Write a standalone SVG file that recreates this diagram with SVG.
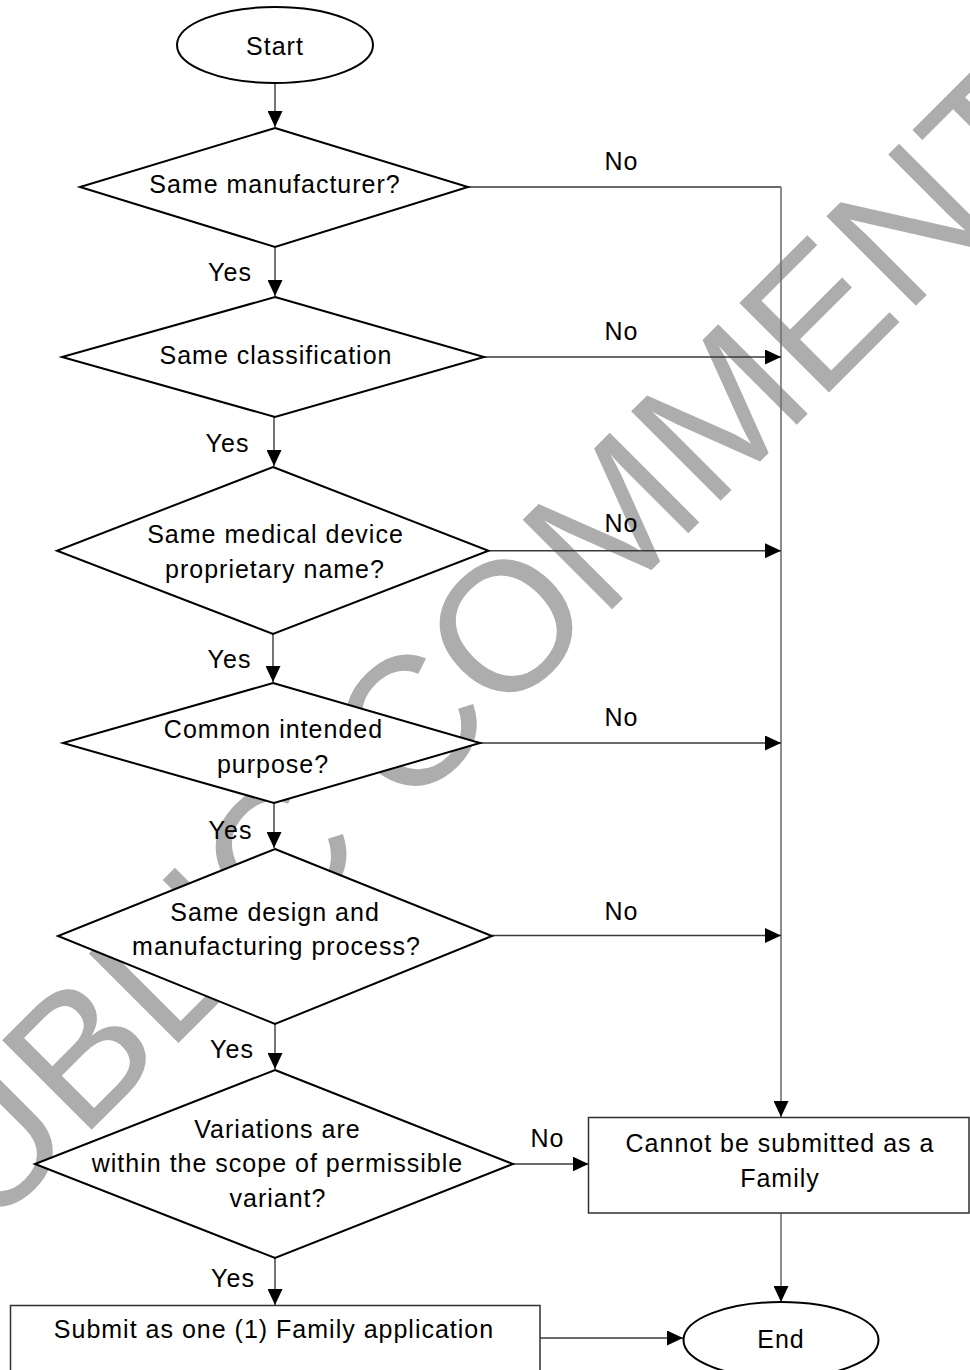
<svg xmlns="http://www.w3.org/2000/svg" width="970" height="1370" viewBox="0 0 970 1370">
<style>
.bg{fill:#fff}
.wm{font-family:"Liberation Sans",Arial,sans-serif;font-size:184px;fill:#adadad}
.shape{fill:#fff;stroke:#000;stroke-width:2}
.box{fill:#fff;stroke:#303030;stroke-width:1.5}
.t{font-family:"Liberation Sans",Arial,sans-serif;font-size:25px;fill:#000;letter-spacing:1px;text-anchor:middle}
.c{fill:none;stroke:#3a3a3a;stroke-width:1.4}
.cv{fill:none;stroke:#707070;stroke-width:1.6}
</style>
<defs>
<marker id="ah" markerWidth="16" markerHeight="15" refX="16" refY="7.5" orient="auto" markerUnits="userSpaceOnUse">
<path d="M0,0 L16,7.5 L0,15 Z" fill="#000"/>
</marker>
</defs>
<rect class="bg" x="0" y="0" width="970" height="1370"/>
<g id="watermark">
<text class="wm" transform="translate(-99.7,1321.3) rotate(-45)">PUBLIC COMMENT</text>
</g>
<g id="connectors">
<path class="c" d="M275,83 V127" marker-end="url(#ah)"/>
<path class="c" d="M275,247 V296" marker-end="url(#ah)"/>
<path class="c" d="M274,417 V466" marker-end="url(#ah)"/>
<path class="c" d="M273,634 V682" marker-end="url(#ah)"/>
<path class="c" d="M274,803 V848" marker-end="url(#ah)"/>
<path class="c" d="M275,1024 V1069" marker-end="url(#ah)"/>
<path class="c" d="M275,1258 V1305" marker-end="url(#ah)"/>
<path class="c" d="M468,187 H781"/>
<path class="cv" d="M781,187 V1117" marker-end="url(#ah)"/>
<path class="c" d="M484,357 H781" marker-end="url(#ah)"/>
<path class="c" d="M488.5,550.7 H781" marker-end="url(#ah)"/>
<path class="c" d="M480,743 H781" marker-end="url(#ah)"/>
<path class="c" d="M492,935.5 H781" marker-end="url(#ah)"/>
<path class="c" d="M513,1164 H588.5" marker-end="url(#ah)"/>
<path class="cv" d="M781,1213 V1302" marker-end="url(#ah)"/>
<path class="c" d="M540,1338 H683" marker-end="url(#ah)"/>
<text class="t" x="230" y="281">Yes</text>
<text class="t" x="227.5" y="452">Yes</text>
<text class="t" x="229.5" y="668">Yes</text>
<text class="t" x="230.5" y="839">Yes</text>
<text class="t" x="232" y="1058">Yes</text>
<text class="t" x="233" y="1287">Yes</text>
<text class="t" x="621.5" y="170">No</text>
<text class="t" x="621.5" y="340">No</text>
<text class="t" x="621.5" y="532">No</text>
<text class="t" x="621.5" y="726">No</text>
<text class="t" x="621.5" y="920">No</text>
<text class="t" x="547.5" y="1147">No</text>
</g>
<g id="start">
<ellipse class="shape" cx="275" cy="45" rx="98" ry="38"/>
<text class="t" x="275" y="55">Start</text>
</g>
<g id="q-manufacturer">
<polygon class="shape" points="275,128 468,187 275,247 80,187"/>
<text class="t" x="275" y="193">Same manufacturer?</text>
</g>
<g id="q-classification">
<polygon class="shape" points="275,297 484,357 275,417 62,357"/>
<text class="t" x="276" y="364">Same classification</text>
</g>
<g id="q-name">
<polygon class="shape" points="273,467 488.5,550.7 273,634 57,550.7"/>
<text class="t" x="275.5" y="543">Same medical device</text>
<text class="t" x="275" y="578">proprietary name?</text>
</g>
<g id="q-purpose">
<polygon class="shape" points="273,683 480,743 274,803 63,743"/>
<text class="t" x="273.5" y="738">Common intended</text>
<text class="t" x="273" y="773">purpose?</text>
</g>
<g id="q-design">
<polygon class="shape" points="275,849 492,936 275,1024 58,936"/>
<text class="t" x="275" y="921">Same design and</text>
<text class="t" x="276.5" y="955">manufacturing process?</text>
</g>
<g id="q-variations">
<polygon class="shape" points="275,1070 513,1164 275,1258 35,1164"/>
<text class="t" x="277.5" y="1138">Variations are</text>
<text class="t" x="277.5" y="1172">within the scope of permissible</text>
<text class="t" x="278" y="1207">variant?</text>
</g>
<g id="cannot">
<rect class="box" x="588.5" y="1117.5" width="380.5" height="95.5"/>
<text class="t" x="780" y="1152">Cannot be submitted as a</text>
<text class="t" x="780" y="1187">Family</text>
</g>
<g id="submit">
<rect class="box" x="10.5" y="1305.5" width="529.5" height="80"/>
<text class="t" x="274" y="1338">Submit as one (1) Family application</text>
</g>
<g id="end">
<ellipse class="shape" cx="781" cy="1340" rx="97.5" ry="38"/>
<text class="t" x="781" y="1348">End</text>
</g>
</svg>
